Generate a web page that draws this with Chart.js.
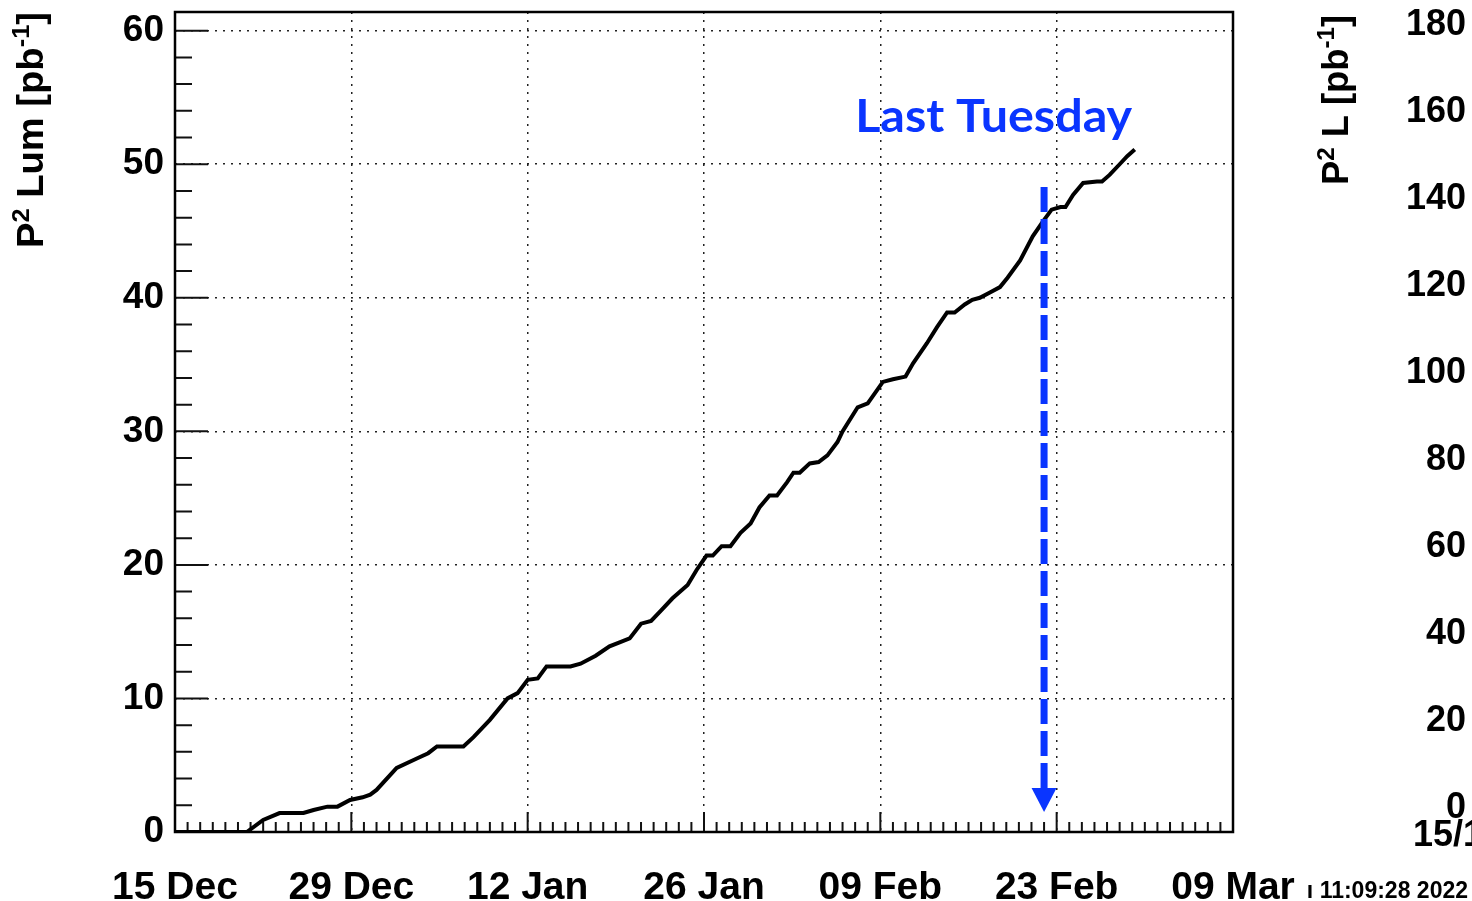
<!DOCTYPE html>
<html>
<head>
<meta charset="utf-8">
<script src="https://cdn.jsdelivr.net/npm/chart.js@4/dist/chart.umd.min.js"></script>
<style>
  html, body { margin: 0; padding: 0; background: #fff; overflow: hidden; }
  #wrap { position: relative; width: 1472px; height: 901px; }
</style>
</head>
<body>
<div id="wrap"><canvas id="c" width="1472" height="901"></canvas></div>
<script>
// ---- data (days since 15 Dec 2021, integrated luminosity in pb^-1) ----
const days = [0, 5.7, 7.0, 8.3, 10.2, 11.0, 12.1, 12.9, 13.9, 14.9, 15.5, 16.0, 17.6, 19.2, 20.1, 20.8, 22.9, 23.7, 25.0, 26.4,
  27.2, 28.0, 28.8, 29.5, 31.4, 32.2, 33.4, 34.5, 35.3, 36.1, 37.0, 37.8, 38.6, 39.5, 40.7, 41.4, 42.2, 42.7, 43.4, 44.1,
  44.9, 45.7, 46.4, 47.2, 47.8, 48.6, 49.1, 49.6, 50.4, 51.1, 51.8, 52.6, 53.0, 54.2, 55.0, 56.2, 57.0, 58.0, 58.6, 59.7,
  60.5, 61.3, 61.9, 62.7, 63.3, 63.9, 64.7, 65.5, 66.1, 67.1, 68.1, 68.9, 69.6, 70.3, 70.7, 71.3, 72.1, 73.2, 73.6, 74.2,
  75.0, 75.6, 76.2];
const lumi = [0, 0, 0.9, 1.42, 1.42, 1.65, 1.9, 1.9, 2.4, 2.6, 2.8, 3.15, 4.8, 5.5, 5.9, 6.4, 6.4, 7.1, 8.4, 10.0,
  10.4, 11.4, 11.5, 12.4, 12.4, 12.6, 13.2, 13.9, 14.2, 14.5, 15.6, 15.8, 16.6, 17.5, 18.5, 19.6, 20.7, 20.7, 21.4, 21.4,
  22.4, 23.1, 24.3, 25.2, 25.2, 26.2, 26.9, 26.9, 27.6, 27.7, 28.2, 29.2, 30.0, 31.8, 32.1, 33.7, 33.9, 34.1, 35.1, 36.6,
  37.8, 38.9, 38.9, 39.5, 39.85, 40.0, 40.4, 40.8, 41.5, 42.8, 44.6, 45.7, 46.6, 46.8, 46.8, 47.7, 48.6, 48.7, 48.7, 49.2,
  50.0, 50.6, 51.1];
const xTickDays = [0, 14, 28, 42, 56, 70, 84];
const xTickLabels = ['15 Dec', '29 Dec', '12 Jan', '26 Jan', '09 Feb', '23 Feb', '09 Mar'];
const yTickValues = [0, 10, 20, 30, 40, 50, 60];
const rightTickValues = [0, 20, 40, 60, 80, 100, 120, 140, 160, 180];
// axis titles: [text, isSuperscript]
const leftTitle = [['P', 0], ['2', 1], [' Lum [pb', 0], ['-1', 1], [']', 0]];
const rightTitle = [['P', 0], ['2', 1], [' L [pb', 0], ['-1', 1], [']', 0]];
const annotationText = 'Last Tuesday';
const arrowDay = 69;          // 22 Feb (Tuesday)
const arrowFrom = 48.3;
const arrowTo = 1.5;
const textDay = 54.0;
const textValue = 52.4;
const rightClippedLabel = '15/12';
const timeStamp = '\u0131 11:09:28 2022';

// ---- style ----
const FONT = "'Liberation Sans', Arial, Helvetica, sans-serif";
const BLUE = '#0a35ff';
const Y_MAX = 61.4;
const R_MIN = -5.52, R_MAX = 182.99;

function drawVerticalTitle(ctx, parts, baseX, topY, length) {
  const MAIN = `bold 36px ${FONT}`, SUP = `bold 24px ${FONT}`;
  let total = 0;
  const ws = parts.map(([t, s]) => { ctx.font = s ? SUP : MAIN; const w = ctx.measureText(t).width; total += w; return w; });
  ctx.save();
  ctx.fillStyle = '#000';
  ctx.translate(baseX, topY + length);
  ctx.rotate(-Math.PI / 2);
  ctx.scale(length / total, 1);
  ctx.textAlign = 'left';
  ctx.textBaseline = 'alphabetic';
  let cx = 0;
  parts.forEach(([t, s], i) => {
    ctx.font = s ? SUP : MAIN;
    ctx.fillText(t, cx, s ? -14 : 0);
    cx += ws[i];
  });
  ctx.restore();
}

const rootStyle = {
  id: 'rootStyle',
  beforeDatasetsDraw(chart) {
    const { ctx, chartArea: a, scales: { x, y } } = chart;
    ctx.save();
    ctx.strokeStyle = '#111';
    ctx.lineWidth = 2;
    ctx.beginPath();
    for (let d = x.min; d <= x.max; d += 1) {
      const px = x.getPixelForValue(d);
      const len = xTickDays.includes(d) ? 20 : 10;
      ctx.moveTo(px, a.bottom);
      ctx.lineTo(px, a.bottom - len);
    }
    const ystep = (yTickValues[1] - yTickValues[0]) / 5;
    const n = (yTickValues[yTickValues.length - 1] - yTickValues[0]) / ystep;
    for (let i = 0; i <= n; i++) {
      const py = y.getPixelForValue(yTickValues[0] + i * ystep);
      const len = i % 5 === 0 ? 33 : 17;
      ctx.moveTo(a.left, py);
      ctx.lineTo(a.left + len, py);
    }
    ctx.stroke();
    ctx.restore();
  },
  afterDatasetsDraw(chart) {
    const { ctx, chartArea: a, scales: { x, y } } = chart;
    ctx.save();
    // frame
    ctx.strokeStyle = '#000';
    ctx.lineWidth = 2.5;
    ctx.strokeRect(a.left, a.top, a.right - a.left, a.bottom - a.top);

    // arrow
    const ax = x.getPixelForValue(arrowDay);
    const y1 = y.getPixelForValue(arrowFrom);
    const y2 = y.getPixelForValue(arrowTo);
    const head = 24;
    ctx.strokeStyle = BLUE;
    ctx.fillStyle = BLUE;
    ctx.lineWidth = 7;
    ctx.setLineDash([25, 7]);
    ctx.beginPath();
    ctx.moveTo(ax, y1);
    ctx.lineTo(ax, y2 - head + 2);
    ctx.stroke();
    ctx.setLineDash([]);
    ctx.beginPath();
    ctx.moveTo(ax - 12.5, y2 - head);
    ctx.lineTo(ax + 12.5, y2 - head);
    ctx.lineTo(ax, y2);
    ctx.closePath();
    ctx.fill();

    // annotation text
    ctx.font = "bold 46px Lato, 'Open Sans', sans-serif";
    const w = ctx.measureText(annotationText).width;
    ctx.translate(x.getPixelForValue(textDay), y.getPixelForValue(textValue));
    ctx.scale(277 / w, 1);
    ctx.textAlign = 'left';
    ctx.textBaseline = 'alphabetic';
    ctx.fillText(annotationText, 0, 0);
    ctx.restore();

    // axis titles
    drawVerticalTitle(ctx, leftTitle, 43, 12, 236);
    drawVerticalTitle(ctx, rightTitle, 1348, 15, 170);

    // pieces of the neighbouring (clipped) plot on the right
    ctx.save();
    ctx.fillStyle = '#000';
    ctx.font = `bold 36px ${FONT}`;
    ctx.textAlign = 'left';
    ctx.textBaseline = 'alphabetic';
    ctx.fillText(rightClippedLabel, 1413, 846);
    ctx.font = `bold 23px ${FONT}`;
    ctx.textAlign = 'right';
    ctx.fillText(timeStamp, 1468, 898);
    ctx.restore();
  }
};

const points = days.map((d, i) => ({ x: d, y: lumi[i] }));
const noPadV = s => { s.paddingTop = 0; s.paddingBottom = 0; };

new Chart(document.getElementById('c'), {
  type: 'line',
  data: {
    datasets: [{
      data: points,
      borderColor: '#000',
      borderWidth: 4,
      pointRadius: 0,
      tension: 0,
      fill: false
    }]
  },
  options: {
    responsive: false,
    animation: false,
    layout: { padding: { top: 12, right: 6, left: 0, bottom: 0 } },
    plugins: { legend: { display: false }, tooltip: { enabled: false } },
    scales: {
      x: {
        type: 'linear',
        min: 0,
        max: 84,
        afterBuildTicks: s => { s.ticks = xTickDays.map(v => ({ value: v })); },
        afterFit: s => { s.height = 69; s.paddingLeft = 0; s.paddingRight = 0; },
        ticks: {
          autoSkip: false,
          maxRotation: 0,
          padding: 33,
          color: '#000',
          font: { family: FONT, size: 39, weight: 'bold' },
          callback: v => xTickLabels[xTickDays.indexOf(v)]
        },
        grid: { color: '#222', lineWidth: 1.5, drawTicks: false },
        border: { display: false, dash: [2, 6] }
      },
      y: {
        type: 'linear',
        position: 'left',
        min: 0,
        max: Y_MAX,
        afterBuildTicks: s => { s.ticks = yTickValues.map(v => ({ value: v })); },
        afterFit: s => { s.width = 175; noPadV(s); },
        ticks: {
          padding: 11,
          color: '#000',
          font: { family: FONT, size: 37, weight: 'bold' }
        },
        grid: { color: '#222', lineWidth: 1.5, drawTicks: false },
        border: { display: false, dash: [2, 6] }
      },
      y2: {
        type: 'linear',
        position: 'right',
        min: R_MIN,
        max: R_MAX,
        afterBuildTicks: s => { s.ticks = rightTickValues.map(v => ({ value: v })); },
        afterFit: s => { s.width = 233; noPadV(s); },
        ticks: {
          crossAlign: 'far',
          color: '#000',
          font: { family: FONT, size: 36, weight: 'bold' }
        },
        grid: { display: false, drawTicks: false },
        border: { display: false }
      }
    }
  },
  plugins: [rootStyle]
});
</script>
</body>
</html>
